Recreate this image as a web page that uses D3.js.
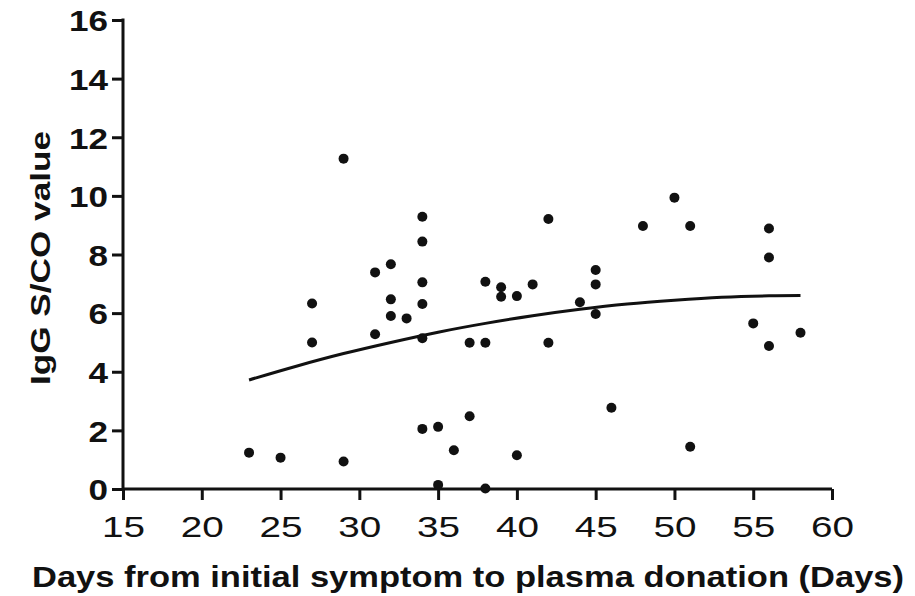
<!DOCTYPE html>
<html><head><meta charset="utf-8">
<script src="https://cdn.jsdelivr.net/npm/d3@7"></script>
<style>body{margin:0;background:#fff}svg{display:block}</style>
</head><body>
<script>
const days = [23,25,27,27,29,29,31,31,32,32,32,33,34,34,34,34,34,34,35,35,36,37,37,38,38,38,39,39,40,40,41,42,42,44,45,45,45,46,48,50,51,51,55,56,56,56,58];
const igg  = [1.24,1.07,6.33,5.0,11.27,0.94,7.39,5.28,7.67,6.47,5.9,5.82,9.29,8.44,7.05,6.31,5.14,2.05,2.12,0.14,1.32,4.99,2.48,7.07,4.99,0.02,6.88,6.56,6.58,1.15,6.98,9.21,4.99,6.37,7.47,6.98,5.97,2.77,8.97,9.94,8.97,1.44,5.65,8.89,7.9,4.88,5.33];
const fitDays = [23,26,29,32,35,38,41,44,47,50,53,56,58];
const fitIgg  = [3.72,4.19,4.62,5.00,5.35,5.65,5.91,6.13,6.31,6.44,6.54,6.59,6.60];
const xTicks = [15,20,25,30,35,40,45,50,55,60];
const yTicks = [0,2,4,6,8,10,12,14,16];
const xTitle = "Days from initial symptom to plasma donation (Days)";
const yTitle = "IgG S/CO value";

const W=915,H=596;
const svg=d3.select("body").append("svg").attr("width",W).attr("height",H);
const x=d3.scaleLinear().domain([15,60]).range([123,832]);
const y=d3.scaleLinear().domain([0,16]).range([489,20]);
const font="'Liberation Sans', Arial, sans-serif";

// axes
const gx=svg.append("g").attr("transform","translate(0,489)")
  .call(d3.axisBottom(x).tickValues(xTicks).tickSize(11).tickSizeOuter(0));
const gy=svg.append("g").attr("transform","translate(123,0)")
  .call(d3.axisLeft(y).tickValues(yTicks).tickSize(11).tickSizeOuter(0).tickPadding(4));
[gx,gy].forEach(g=>{
  g.select(".domain").attr("stroke","#111").attr("stroke-width",3);
  g.selectAll(".tick line").attr("stroke","#111").attr("stroke-width",3);
  g.selectAll(".tick text").attr("fill","#111").attr("font-family",font).attr("font-weight","bold").attr("font-size",30);
});
gx.select(".domain").attr("d","M123,0H832");
gy.select(".domain").attr("d","M0,18.5V490.5");
gx.selectAll(".tick text").attr("font-weight","normal").attr("textLength",43).attr("lengthAdjust","spacingAndGlyphs").attr("dy",0).attr("y",48);
gy.selectAll(".tick text").each(function(d){
  d3.select(this).attr("textLength",String(d).length*19.5).attr("lengthAdjust","spacingAndGlyphs").attr("dy","0.36em");
});

// fit curve
svg.append("path").datum(fitDays.map((d,i)=>[d,fitIgg[i]]))
  .attr("fill","none").attr("stroke","#111").attr("stroke-width",3)
  .attr("d",d3.line().x(d=>x(d[0])).y(d=>y(d[1])).curve(d3.curveCatmullRom));

// points
svg.append("g").selectAll("circle").data(days.map((d,i)=>[d,igg[i]])).join("circle")
  .attr("cx",d=>x(d[0])).attr("cy",d=>y(d[1])).attr("r",5).attr("fill","#111");

// titles
svg.append("text").attr("x",468).attr("y",587).attr("text-anchor","middle")
  .attr("font-family",font).attr("font-weight","bold").attr("font-size",29).attr("fill","#111")
  .attr("textLength",872).attr("lengthAdjust","spacingAndGlyphs").text(xTitle);
svg.append("text").attr("transform","translate(50,258) rotate(-90)").attr("text-anchor","middle")
  .attr("font-family",font).attr("font-weight","bold").attr("font-size",27).attr("fill","#111")
  .attr("textLength",254).attr("lengthAdjust","spacingAndGlyphs").text(yTitle);
</script>
</body></html>
